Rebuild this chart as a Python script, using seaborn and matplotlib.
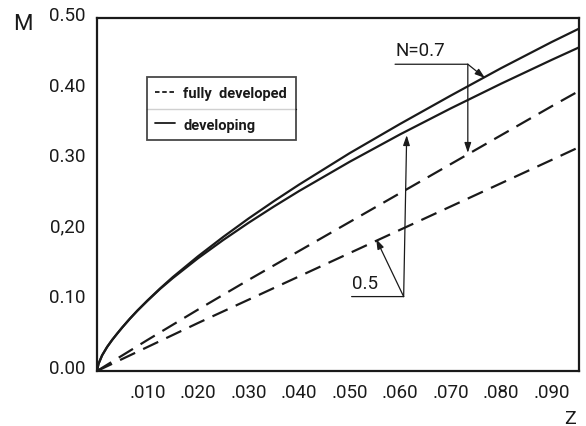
import numpy as np
import pandas as pd
import seaborn as sns
import matplotlib
matplotlib.use("Agg")
import matplotlib.pyplot as plt
import matplotlib.transforms as mtransforms
from matplotlib.lines import Line2D

# ---- data ----
z_dev = [0.0, 0.0003, 0.001, 0.002, 0.003, 0.004, 0.005, 0.0065, 0.008, 0.010,
         0.0125, 0.015, 0.020, 0.025, 0.030, 0.035, 0.040, 0.050, 0.060, 0.070,
         0.080, 0.090, 0.096]
M_dev_07 = [0.0, 0.010, 0.022, 0.034, 0.044, 0.053, 0.0617, 0.074, 0.0855, 0.100,
            0.117, 0.133, 0.1625, 0.190, 0.216, 0.2405, 0.264, 0.3085, 0.350, 0.390,
            0.429, 0.466, 0.487]
M_dev_05 = [0.0, 0.010, 0.022, 0.034, 0.044, 0.053, 0.0617, 0.074, 0.0855, 0.0995,
            0.1163, 0.1315, 0.1597, 0.1856, 0.2099, 0.2329, 0.2549, 0.2963, 0.3352, 0.3719,
            0.4070, 0.4407, 0.4603]

z_full = [0.0, 0.005, 0.010, 0.020, 0.030, 0.040, 0.050, 0.060, 0.070, 0.080, 0.090, 0.096]
M_full_07 = [0.0, 0.022, 0.044, 0.087, 0.129, 0.170, 0.211, 0.252, 0.293, 0.334, 0.375, 0.399]
M_full_05 = [0.0, 0.017, 0.034, 0.068, 0.101, 0.134, 0.167, 0.200, 0.233, 0.266, 0.299, 0.319]

x_ticks = [0.010, 0.020, 0.030, 0.040, 0.050, 0.060, 0.070, 0.080, 0.090]
x_tick_labels = [".010", ".020", ".030", ".040", ".050", ".060", ".070", ".080", ".090"]
y_ticks = [0.0, 0.1, 0.2, 0.3, 0.4, 0.5]
y_tick_labels = ["0.00", "0.10", "0,20", "0.30", "0.40", "0.50"]
legend_labels = ["fully  developed", "developing"]

# ---- style ----
sns.set_style("white")
plt.rcParams['font.family'] = ['Roboto', 'DejaVu Sans']
plt.rcParams['axes.linewidth'] = 1.5

fig = plt.figure(figsize=(5.86, 4.27), dpi=100)
ax = fig.add_axes([0.1655, 0.1288, 0.8225, 0.8267])

ink = "#1a1a1a"
lw = 1.6
dash = (7.5, 4)

sns.lineplot(x=z_dev, y=M_dev_07, ax=ax, color=ink, lw=lw, sort=True)
sns.lineplot(x=z_dev, y=M_dev_05, ax=ax, color=ink, lw=lw, sort=True)
l3 = sns.lineplot(x=z_full, y=M_full_07, ax=ax, color=ink, lw=lw, sort=True).lines[-1]
l3.set_dashes(dash)
l4 = sns.lineplot(x=z_full, y=M_full_05, ax=ax, color=ink, lw=lw, sort=True).lines[-1]
l4.set_dashes(dash)

ax.set_xlim(0, 0.0954)
ax.set_ylim(0, 0.5)
ax.set_xticks(x_ticks)
ax.set_xticklabels(x_tick_labels)
ax.set_yticks(y_ticks)
ax.set_yticklabels(y_tick_labels)
ax.tick_params(axis='both', direction='in', length=7, width=1.3, colors=ink,
               labelsize=13.5, pad=8.5, top=False, right=False)
for s in ax.spines.values():
    s.set_color(ink)
    s.set_linewidth(1.6)
ax.set_xlabel("")
ax.set_ylabel("")

# y tick labels sit a little above their ticks
off = mtransforms.ScaledTranslation(0, 0.05, fig.dpi_scale_trans)
for t in ax.get_yticklabels():
    t.set_transform(t.get_transform() + off)

# axis names
fig.text(0.0384, 0.9415, "M", fontsize=16, ha="center", va="center", color=ink)
fig.text(0.973, 0.018, "Z", fontsize=14, ha="center", va="center", color=ink)

# legend
handles = [Line2D([], [], color=ink, lw=1.3, dashes=(2.5, 1.5)),
           Line2D([], [], color=ink, lw=1.3)]
leg = ax.legend(handles, legend_labels, loc="upper left",
                bbox_to_anchor=(0.103, 0.832), frameon=True, fancybox=False,
                edgecolor=ink, fontsize=10.5, handlelength=1.35, handletextpad=0.55,
                borderpad=0.6, labelspacing=1.2, borderaxespad=0)
leg.get_frame().set_linewidth(1.3)
for t in leg.get_texts():
    t.set_fontweight("bold")
    t.set_color(ink)

# divider line inside legend box
fig.canvas.draw()
bb = leg.get_window_extent().transformed(ax.transAxes.inverted())
ymid = (bb.y0 + bb.y1) / 2
ax.plot([bb.x0, bb.x1], [ymid, ymid], transform=ax.transAxes, color=ink, lw=1.0,
        clip_on=False)

# annotations
aprops = dict(arrowstyle="-|>,head_length=0.6,head_width=0.2", color=ink, lw=0.9,
              shrinkA=0, shrinkB=0)
lprops = dict(arrowstyle="-", color=ink, lw=0.9, shrinkA=0, shrinkB=0)

ax.text(0.0590, 0.442, "N=0.7", fontsize=13.5, ha="left", va="bottom", color=ink)
ax.annotate("", xy=(0.0734, 0.4345), xytext=(0.0590, 0.4345), arrowprops=lprops)
ax.annotate("", xy=(0.0768, 0.4150), xytext=(0.0734, 0.4345), arrowprops=aprops)
ax.annotate("", xy=(0.0734, 0.309), xytext=(0.0734, 0.4345), arrowprops=aprops)

ax.text(0.0504, 0.112, "0.5", fontsize=13.5, ha="left", va="bottom", color=ink)
ax.annotate("", xy=(0.0607, 0.1054), xytext=(0.0504, 0.1054), arrowprops=lprops)
ax.annotate("", xy=(0.05525, 0.187), xytext=(0.0607, 0.1054), arrowprops=aprops)
ax.annotate("", xy=(0.0613, 0.334), xytext=(0.0607, 0.1054), arrowprops=aprops)

fig.savefig("out.png", dpi=100)
